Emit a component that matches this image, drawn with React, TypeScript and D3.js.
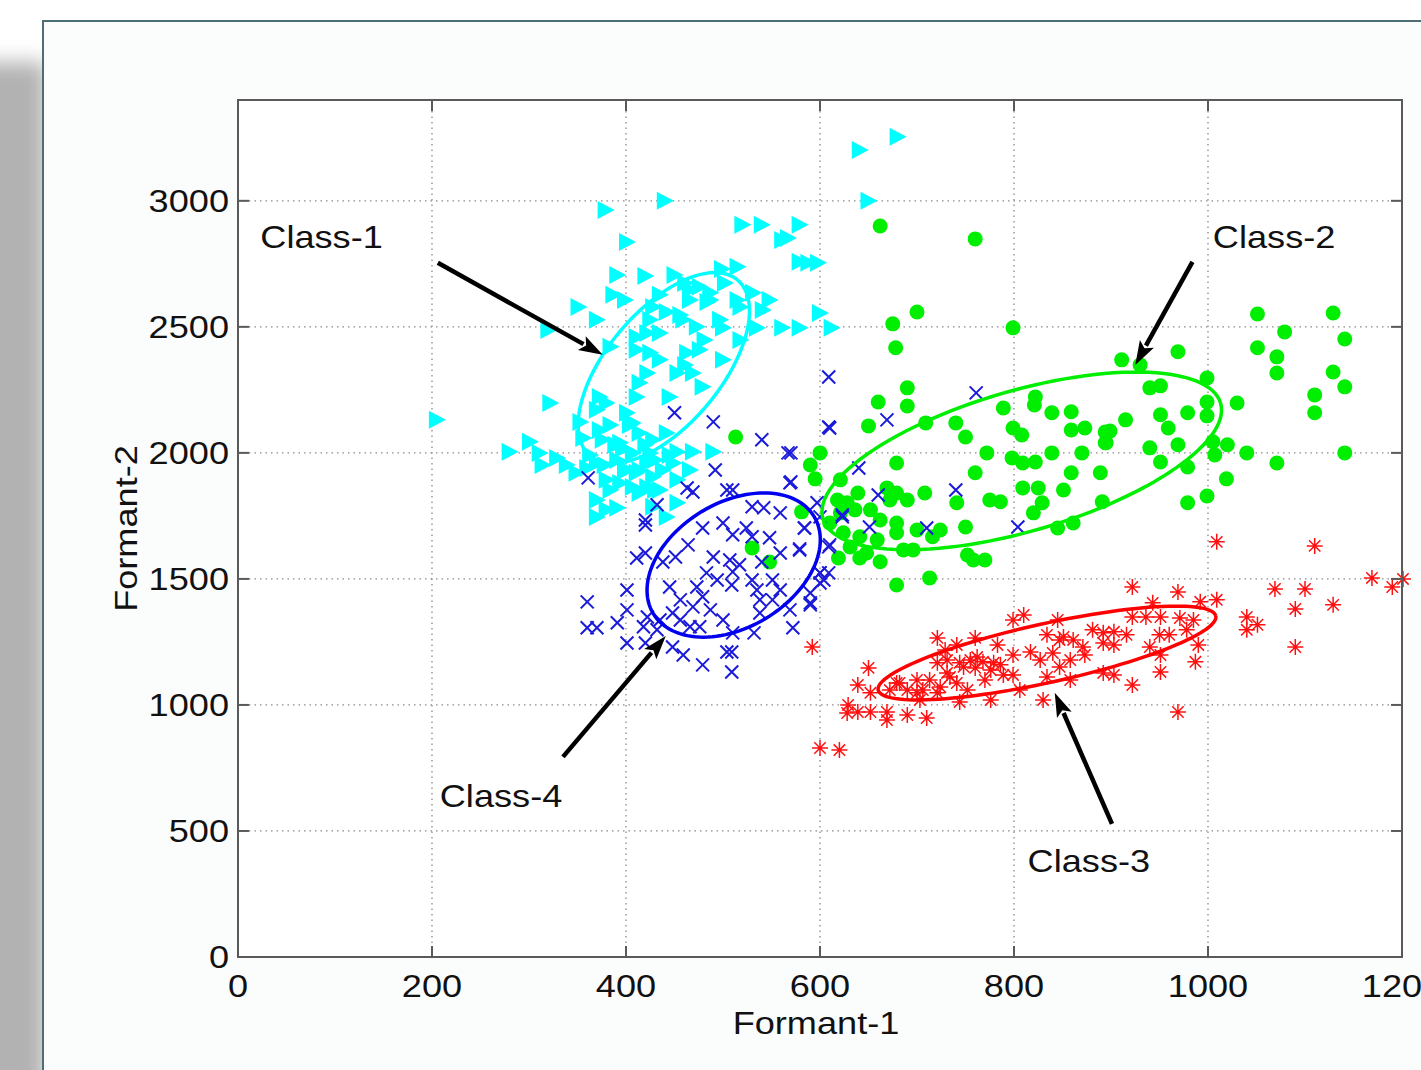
import React, { useRef, useEffect } from 'react';
import * as d3 from 'd3';

// tick values
const xTicks = [0, 200, 400, 600, 800, 1000, 1200];
const yTicks = [0, 500, 1000, 1500, 2000, 2500, 3000];

// Class-1 (cyan triangles) [formant1, formant2]
const class1Points = [
  [205, 2131], [641, 3202], [680, 3254], [379, 2964], [440, 3000], [650, 3000], [401, 2837],
  [520, 2905], [540, 2905], [579, 2905], [561, 2845], [567, 2853], [579, 2758], [588, 2754], [598, 2754],
  [391, 2706], [420, 2702], [450, 2706], [461, 2674], [476, 2659], [499, 2730], [515, 2738], [502, 2674],
  [487, 2635], [387, 2627], [399, 2607], [351, 2579], [370, 2528], [428, 2579], [442, 2559], [466, 2607],
  [484, 2599], [515, 2607], [531, 2635], [548, 2607], [541, 2567], [459, 2528], [473, 2500], [500, 2496],
  [518, 2579], [535, 2496], [561, 2496], [579, 2496], [600, 2555], [612, 2496], [320, 2488],
  [411, 2460], [422, 2476], [435, 2476], [411, 2409], [425, 2397], [463, 2397], [476, 2409], [500, 2369],
  [518, 2448], [384, 2421], [453, 2317], [469, 2317], [479, 2262], [422, 2317], [445, 2222], [411, 2222],
  [414, 2278], [322, 2198], [373, 2222], [380, 2198], [370, 2171], [401, 2159], [384, 2111], [407, 2119],
  [414, 2079], [428, 2052], [442, 2079], [353, 2123], [356, 2059], [376, 2052], [394, 2040], [397, 2016],
  [407, 2000], [425, 2000], [453, 2004], [469, 2004], [490, 2004], [280, 2004], [301, 2044], [311, 2000],
  [314, 1952], [329, 1980], [339, 1952], [349, 1921], [360, 1940], [370, 1960], [380, 1893], [391, 1972],
  [401, 1932], [411, 1921], [422, 1960], [428, 1905], [438, 1932], [449, 1960], [422, 1865], [435, 1853],
  [407, 1865], [394, 1881], [370, 1813], [380, 1774], [391, 1782], [370, 1746], [414, 1841], [428, 1786],
  [442, 1746], [453, 1802], [453, 1893],
  [373, 2091], [389, 2032], [404, 2111], [420, 2032], [430, 1972], [378, 1952], [363, 1992], [399, 1932],
  [414, 1932], [445, 1992], [384, 1853], [430, 1853], [466, 1932],
  [435, 2627], [466, 2647], [487, 2607], [456, 2547], [425, 2528], [497, 2528], [481, 2448], [461, 2349],
  [435, 2369],
];

// Class-2 (green dots)
const class2Points = [
  [700, 2559], [675, 2512], [678, 2417], [799, 2496], [690, 2258], [660, 2202], [690, 2186], [650, 2107],
  [709, 2119], [740, 2119], [750, 2063], [789, 2178], [822, 2222], [821, 2190], [839, 2159], [859, 2163],
  [799, 2099], [808, 2071], [859, 2091], [873, 2099], [894, 2083], [894, 2040], [600, 2000], [590, 1952],
  [595, 1897], [679, 1960], [772, 2000], [798, 1980], [809, 1960], [822, 1964], [839, 2000], [870, 2000],
  [760, 1921], [859, 1921], [889, 1921], [621, 1893], [809, 1861], [851, 1853], [825, 1861], [829, 1802],
  [775, 1813], [786, 1806], [741, 1802], [708, 1841], [669, 1861], [679, 1841], [690, 1813], [639, 1841],
  [628, 1802], [618, 1813], [621, 1762], [636, 1774], [652, 1774], [662, 1734], [679, 1722], [700, 1694],
  [724, 1694], [750, 1706], [716, 1667], [820, 1762], [845, 1702], [861, 1722], [891, 1806], [610, 1722],
  [624, 1683], [641, 1667], [659, 1655], [679, 1683], [631, 1627], [648, 1603], [662, 1568], [686, 1615],
  [696, 1615], [619, 1583], [641, 1583], [752, 1595], [758, 1575], [770, 1575], [713, 1504], [679, 1476],
  [672, 1813], [513, 2063], [530, 1623], [548, 1567], [581, 1766], [662, 2900], [760, 2849],
  [911, 2369], [930, 2349], [969, 2401], [1051, 2551], [1079, 2480], [1051, 2417], [1071, 2381], [1071, 2317],
  [1129, 2555], [1141, 2452], [1129, 2321], [1141, 2262], [1110, 2230], [1110, 2159], [1141, 2000],
  [1071, 1960], [1040, 2000], [1030, 2198], [999, 2297], [940, 2258], [951, 2266], [999, 2202], [999, 2147],
  [979, 2159], [951, 2151], [959, 2099], [915, 2131], [899, 2087], [895, 2040], [940, 2020], [951, 1964],
  [969, 2032], [979, 1944], [1005, 2044], [1020, 2032], [1007, 1992], [1019, 1897], [999, 1829], [979, 1802],
];

// Class-3 (red asterisks)
const class3Points = [
  [592, 1230], [600, 829], [620, 821], [650, 1147], [639, 1079], [652, 1048], [629, 1000], [639, 972],
  [652, 972], [628, 968], [669, 972], [669, 940], [690, 960], [710, 948], [679, 1087], [700, 1099],
  [706, 1059], [690, 1059], [721, 1266], [741, 1238], [760, 1266], [721, 1167], [731, 1127], [748, 1151],
  [755, 1178], [768, 1171], [779, 1167], [783, 1238], [799, 1337], [810, 1357], [845, 1337], [724, 1071],
  [741, 1087], [752, 1059], [776, 1020], [744, 1012], [721, 1048], [776, 1139], [789, 1119], [799, 1119],
  [799, 1198], [817, 1210], [827, 1178], [840, 1206], [806, 1059], [830, 1020], [834, 1111], [847, 1151],
  [858, 1099], [834, 1278], [851, 1270], [861, 1258], [871, 1230], [881, 1298], [892, 1286], [892, 1246],
  [892, 1127], [700, 1048], [731, 1178], [762, 1190],
  [682, 1087], [672, 1059], [713, 1099], [734, 1111], [744, 1167], [729, 1218], [760, 1147], [770, 1099],
  [786, 1159], [703, 1020], [847, 1258], [858, 1178], [873, 1198],
  [1009, 1647], [1110, 1631], [1169, 1504], [1201, 1500], [1190, 1468], [1069, 1460], [1100, 1460],
  [1090, 1381], [1129, 1397], [1040, 1349], [1051, 1318], [1040, 1298], [1090, 1230], [1009, 1417],
  [992, 1409], [969, 1448], [922, 1468], [943, 1405], [951, 1349], [922, 1349], [936, 1349], [971, 1345],
  [985, 1337], [978, 1298], [903, 1290], [916, 1278], [903, 1238], [950, 1278], [960, 1278], [940, 1230],
  [951, 1198], [990, 1238], [987, 1171], [951, 1131], [903, 1119], [922, 1079], [969, 972],
];

// Class-4 (blue crosses)
const class4Points = [
  [450, 2159], [490, 2123], [540, 2052], [610, 2099], [567, 2000], [361, 1901], [492, 1932], [569, 1881],
  [463, 1861], [469, 1845], [504, 1853], [510, 1853], [432, 1794], [420, 1734], [420, 1714], [530, 1786],
  [542, 1782], [559, 1762], [597, 1802], [623, 1754], [479, 1702], [500, 1722], [510, 1675], [524, 1702],
  [530, 1667], [548, 1663], [584, 1702], [610, 1635], [579, 1615], [559, 1603], [540, 1567], [411, 1583],
  [420, 1603], [438, 1567], [451, 1587], [464, 1635], [490, 1587], [507, 1575], [517, 1556], [510, 1528],
  [483, 1524], [494, 1496], [473, 1468], [479, 1429], [509, 1476], [530, 1496], [535, 1456], [551, 1496],
  [559, 1456], [600, 1524], [604, 1496], [590, 1444], [590, 1397], [569, 1377], [572, 1306], [551, 1417],
  [538, 1417], [538, 1365], [532, 1286], [510, 1286], [500, 1337], [487, 1377], [469, 1389], [456, 1417],
  [448, 1365], [445, 1468], [456, 1337], [476, 1310], [466, 1310], [435, 1337], [422, 1349], [418, 1310],
  [432, 1298], [401, 1456], [401, 1377], [360, 1409], [360, 1306], [370, 1306], [391, 1326], [401, 1246],
  [420, 1246], [448, 1230], [459, 1198], [479, 1159], [509, 1131], [504, 1210], [509, 1210],
  [609, 2301], [609, 2103], [761, 2238], [669, 2131], [570, 2000], [570, 1885], [640, 1940], [660, 1833],
  [623, 1746], [651, 1706], [600, 1746], [740, 1853], [710, 1702], [804, 1706], [609, 1627], [584, 1702],
  [579, 1619], [600, 1524], [609, 1524], [600, 1484], [590, 1405],
];

// fitted ellipses: centre, major semi-axis vector, minor semi-axis vector (data units)
const ellipses = [
  { name: 'Class-1', color: '#00ffff', cx: 439, cy: 2337, ax: 76, ay: 349, bx: 45, by: -146 },
  { name: 'Class-2', color: '#00ee00', cx: 808, cy: 1968, ax: 205, ay: 229, bx: 20, by: -268 },
  { name: 'Class-3', color: '#ff0000', cx: 834, cy: 1206, ax: 174, ay: 147, bx: 6.5, by: -114 },
  { name: 'Class-4', color: '#0000ee', cx: 511, cy: 1555, ax: 83, ay: 192, bx: 33, by: -212 },
];

// annotation arrows [fromX, fromY, toX, toY]
const arrows = [
  [206, 2754, 376, 2389],
  [984, 2758, 925, 2349],
  [335, 794, 441, 1274],
  [901, 528, 842, 1048],
];

// annotation labels [text, x, y(baseline)]
const labels: [string, number, number][] = [
  ['Class-1', 23, 2813],
  ['Class-2', 1005, 2813],
  ['Class-4', 208, 595],
  ['Class-3', 814, 337],
];

const FONT = '"Liberation Sans", Arial, sans-serif';
const STRETCH = 1.13; // the exported figure is a bit wider than tall

const App = () => {
  const svgRef = useRef<SVGSVGElement>(null);

  useEffect(() => {
    const svg = d3.select(svgRef.current);
    svg.selectAll('*').remove();

    const W = 1421;
    const H = 1070;
    const plot = { left: 238, top: 100, right: 1402, bottom: 957 };

    const x = d3.scaleLinear().domain([0, 1200]).range([plot.left, plot.right]);
    const y = d3.scaleLinear().domain([0, 3400]).range([plot.bottom, plot.top]);

    const defs = svg.append('defs');
    const blur = defs.append('filter').attr('id', 'shadow').attr('x', '-50%').attr('y', '-10%')
      .attr('width', '200%').attr('height', '120%');
    blur.append('feGaussianBlur').attr('stdDeviation', 10);

    // page background + drop shadow of the figure frame
    svg.append('rect').attr('width', W).attr('height', H).attr('fill', '#ffffff');
    svg.append('rect').attr('x', -30).attr('y', 62).attr('width', 76).attr('height', H)
      .attr('fill', '#b2b2b2').attr('filter', 'url(#shadow)');
    svg.append('rect').attr('x', 43).attr('y', 21).attr('width', W).attr('height', H)
      .attr('fill', '#fbfcfc').attr('stroke', '#4d6e74').attr('stroke-width', 2);

    // axes area
    svg.append('rect').attr('x', plot.left).attr('y', plot.top)
      .attr('width', plot.right - plot.left).attr('height', plot.bottom - plot.top)
      .attr('fill', '#ffffff');

    // grid
    const grid = svg.append('g').attr('stroke', '#8a8a8a').attr('stroke-width', 1.3)
      .attr('stroke-dasharray', '1.5,4');
    xTicks.slice(1, -1).forEach(t => {
      grid.append('line').attr('x1', x(t)).attr('x2', x(t)).attr('y1', plot.top).attr('y2', plot.bottom);
    });
    yTicks.slice(1).forEach(t => {
      grid.append('line').attr('x1', plot.left).attr('x2', plot.right).attr('y1', y(t)).attr('y2', y(t));
    });

    // scatter
    const cyan = svg.append('g').attr('fill', '#00ffff');
    cyan.selectAll('path').data(class1Points).enter().append('path')
      .attr('d', 'M-8,-9L9,0L-8,9Z')
      .attr('transform', d => `translate(${x(d[0])},${y(d[1])})`);

    const green = svg.append('g').attr('fill', '#00ee00');
    green.selectAll('circle').data(class2Points).enter().append('circle')
      .attr('cx', d => x(d[0])).attr('cy', d => y(d[1])).attr('r', 7.5);

    const red = svg.append('g').attr('stroke', '#ff1010').attr('stroke-width', 1.5).attr('fill', 'none');
    red.selectAll('path').data(class3Points).enter().append('path')
      .attr('d', 'M-8,0L8,0M0,-8L0,8M-5.7,-5.7L5.7,5.7M-5.7,5.7L5.7,-5.7')
      .attr('transform', d => `translate(${x(d[0])},${y(d[1])})`);

    const blue = svg.append('g').attr('stroke', '#1a1ad8').attr('stroke-width', 2).attr('fill', 'none');
    blue.selectAll('path').data(class4Points).enter().append('path')
      .attr('d', 'M-6.5,-6.5L6.5,6.5M-6.5,6.5L6.5,-6.5')
      .attr('transform', d => `translate(${x(d[0])},${y(d[1])})`);

    // ellipses
    const angles = d3.range(0, 361, 3).map(a => (a * Math.PI) / 180);
    const line = d3.line<number>();
    ellipses.forEach(e => {
      const pts = angles.map(t => [
        x(e.cx + Math.cos(t) * e.ax + Math.sin(t) * e.bx),
        y(e.cy + Math.cos(t) * e.ay + Math.sin(t) * e.by),
      ]) as any;
      svg.append('path').attr('d', line(pts)).attr('fill', 'none')
        .attr('stroke', e.color).attr('stroke-width', 3.5);
    });

    // axes box and ticks
    svg.append('rect').attr('x', plot.left).attr('y', plot.top)
      .attr('width', plot.right - plot.left).attr('height', plot.bottom - plot.top)
      .attr('fill', 'none').attr('stroke', '#5a5a5a').attr('stroke-width', 2);
    const ticks = svg.append('g').attr('stroke', '#5a5a5a').attr('stroke-width', 2);
    xTicks.forEach(t => {
      ticks.append('line').attr('x1', x(t)).attr('x2', x(t)).attr('y1', plot.bottom).attr('y2', plot.bottom - 11);
      ticks.append('line').attr('x1', x(t)).attr('x2', x(t)).attr('y1', plot.top).attr('y2', plot.top + 11);
    });
    yTicks.forEach(t => {
      ticks.append('line').attr('x1', plot.left).attr('x2', plot.left + 11).attr('y1', y(t)).attr('y2', y(t));
      ticks.append('line').attr('x1', plot.right).attr('x2', plot.right - 11).attr('y1', y(t)).attr('y2', y(t));
    });

    const txt = svg.append('g').attr('font-family', FONT).attr('font-size', 32).attr('fill', '#111');
    // helper: text stretched horizontally around its anchor point
    const put = (s: string | number, tx: number, ty: number, anchor: string, rot = 0) => {
      txt.append('text')
        .attr('transform', `translate(${tx},${ty}) rotate(${rot}) scale(${STRETCH},1)`)
        .attr('text-anchor', anchor).text(s);
    };
    xTicks.forEach(t => put(t, x(t), plot.bottom + 40, 'middle'));
    yTicks.forEach(t => put(t, plot.left - 9, y(t) + 11, 'end'));
    put('Formant-1', (plot.left + plot.right) / 2 - 4, 1034, 'middle');
    put('Formant-2', 137, (plot.top + plot.bottom) / 2, 'middle', -90);

    labels.forEach(([s, lx, ly]) => put(s, x(lx), y(ly), 'start'));

    // arrows
    arrows.forEach(([x0, y0, x1, y1]) => {
      const px0 = x(x0), py0 = y(y0), px1 = x(x1), py1 = y(y1);
      const len = Math.hypot(px1 - px0, py1 - py0);
      const ux = (px1 - px0) / len, uy = (py1 - py0) / len;
      const head = 24, half = 8;
      const bx = px1 - ux * head, by = py1 - uy * head;
      svg.append('line').attr('x1', px0).attr('y1', py0).attr('x2', bx + ux * 2).attr('y2', by + uy * 2)
        .attr('stroke', '#000').attr('stroke-width', 4.5);
      svg.append('path')
        .attr('d', `M${px1},${py1}L${bx - uy * half},${by + ux * half}L${bx + ux * 5},${by + uy * 5}L${bx + uy * half},${by - ux * half}Z`)
        .attr('fill', '#000');
    });
  }, []);

  return (
    <div style={{ position: 'absolute', left: 0, top: 0 }}>
      <svg ref={svgRef} width="1421" height="1070" style={{ display: 'block' }}></svg>
    </div>
  );
};

export default App;
